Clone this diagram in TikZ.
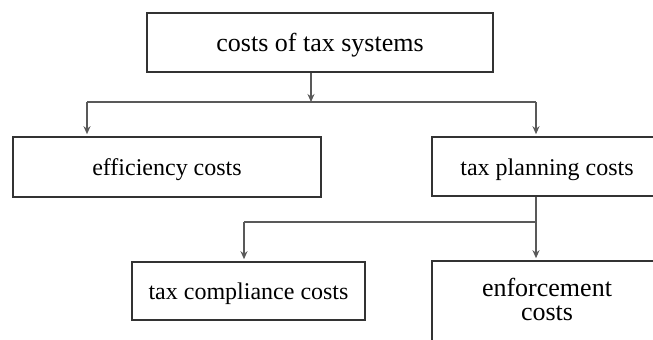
\documentclass[tikz,border=0pt]{standalone}
\usepackage{fontspec}
\setmainfont{Liberation Serif}
\usetikzlibrary{arrows.meta}
\newcommand{\lowtext}[1]{\raisebox{-3bp}[\height][\depth]{#1}}
\begin{document}
\begin{tikzpicture}[x=1bp,y=-1bp,
  box/.style={draw=black!80,line width=1.6bp,rectangle,inner sep=0pt,align=center,
    font=\fontsize{24bp}{27bp}\selectfont},
  conn/.style={draw=black!65,line width=1.2bp},
  arr/.style={conn,-{Stealth[length=8bp,width=7bp]},shorten >=2bp}]
\useasboundingbox (0,0) rectangle (653,339);
\clip (0,0) rectangle (653,339);
\fill[white] (0,0) rectangle (653,339);
\node[box,minimum width=346bp,minimum height=59bp,font=\fontsize{26bp}{28bp}\selectfont] (top) at (320,42.5) {\lowtext{costs of tax systems}};
\node[box,minimum width=308bp,minimum height=60bp] (eff) at (167,167) {\lowtext{efficiency costs}};
\node[box,minimum width=230bp,minimum height=59bp] (plan) at (547,166.5) {\lowtext{tax planning costs}};
\node[box,minimum width=233bp,minimum height=58bp] (comp) at (248.5,291) {\lowtext{tax compliance costs}};
\node[box,minimum width=230bp,minimum height=84bp,font=\fontsize{26bp}{25bp}\selectfont] (enf) at (547,303) {\begin{tabular}{@{}c@{}}enforcement\\[-1bp]costs\end{tabular}};
\coordinate (jt) at (311,102);
\coordinate (jl) at (87,102);
\coordinate (jr) at (536,102);
\coordinate (kt) at (536,222);
\coordinate (kl) at (244,222);
\draw[arr,shorten >=0pt] (top.south -| jt) -- (jt);
\draw[conn] (jl) -- (jr);
\draw[arr] (jl) -- (eff.north -| jl);
\draw[arr] (jr) -- (plan.north -| jr);
\draw[conn] (plan.south -| kt) -- (kt);
\draw[conn] (kl) -- (kt);
\draw[arr] (kl) -- (comp.north -| kl);
\draw[arr] (kt) -- (enf.north -| kt);
\end{tikzpicture}
\end{document}
